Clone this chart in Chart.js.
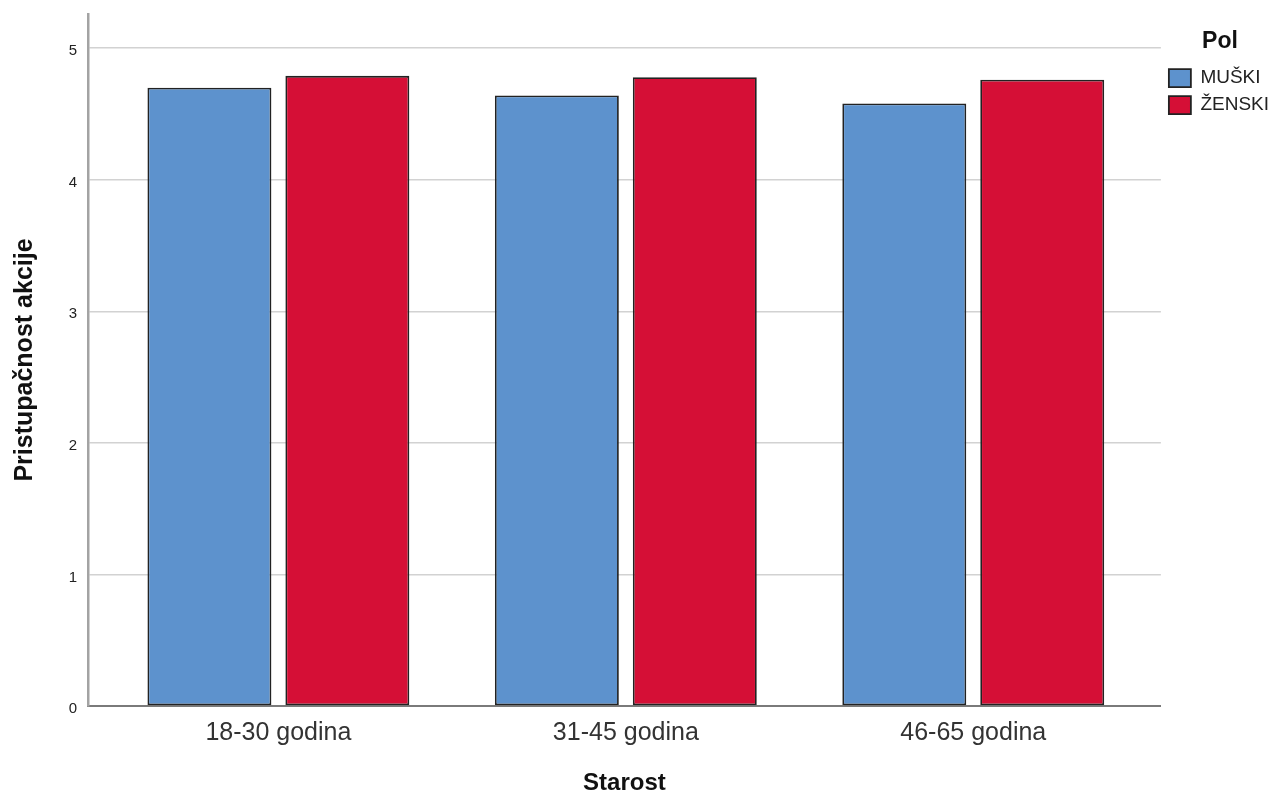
<!DOCTYPE html>
<html>
<head>
<meta charset="utf-8">
<script src="https://cdn.jsdelivr.net/npm/chart.js@4/dist/chart.umd.min.js"></script>
<style>
html,body{margin:0;padding:0;background:#fff;}
#wrap{width:1285px;height:796px;}
</style>
</head>
<body>
<div id="wrap"><canvas id="c" width="1285" height="796"></canvas></div>
<script>
const categories = ['18-30 godina', '31-45 godina', '46-65 godina'];
const seriesNames = ['MUŠKI', 'ŽENSKI'];
const muski = [4.70, 4.64, 4.58];
const zenski = [4.79, 4.78, 4.76];
const yTicks = [0, 1, 2, 3, 4, 5];
const xTitle = 'Starost';
const yTitle = 'Pristupačnost akcije';
const legendTitle = 'Pol';

const FONT = "'Liberation Sans', Arial, sans-serif";

const toPoints = arr => arr.map((v, i) => ({x: i, y: v}));

new Chart(document.getElementById('c'), {
  type: 'bar',
  data: {
    datasets: [
      {label: seriesNames[0], data: toPoints(muski), backgroundColor: '#5d92cd', borderColor: '#222222', borderWidth: 1.8, borderSkipped: false},
      {label: seriesNames[1], data: toPoints(zenski), backgroundColor: '#d50f36', borderColor: '#222222', borderWidth: 1.8, borderSkipped: false}
    ]
  },
  options: {
    responsive: false,
    animation: false,
    devicePixelRatio: 1,
    categoryPercentage: 0.794,
    barPercentage: 0.8986,
    layout: {padding: {top: 14, right: 6, bottom: 0, left: 0}},
    plugins: {
      tooltip: {enabled: false},
      legend: {
        position: 'right',
        align: 'start',
        title: {display: true, text: legendTitle, color: '#111', font: {family: FONT, size: 23, weight: 'bold'}, padding: {top: 16, bottom: 3}},
        labels: {
          boxWidth: 22, boxHeight: 18, padding: 8, color: '#222',
          font: {family: FONT, size: 19}
        }
      }
    },
    scales: {
      x: {
        type: 'linear',
        min: -0.548,
        max: 2.54,
        offset: false,
        afterBuildTicks: s => { s.ticks = categories.map((_, i) => ({value: i})); },
        afterFit: s => { s.height = 90; s.paddingLeft = 0; s.paddingRight = 0; },
        grid: {display: false, drawTicks: false},
        border: {display: true, color: '#7a7a7a', width: 2},
        ticks: {
          autoSkip: false, maxRotation: 0, padding: 12, color: '#333',
          font: {family: FONT, size: 25},
          callback: v => categories[v]
        },
        title: {display: true, text: xTitle, color: '#111', font: {family: FONT, size: 24, weight: 'bold'}, padding: {top: 0, bottom: -2}}
      },
      y: {
        min: 0,
        max: 5.26,
        afterBuildTicks: s => { s.ticks = yTicks.map(v => ({value: v})); },
        afterFit: s => { s.width = 88; s.paddingTop = 0; s.paddingBottom = 0; },
        grid: {color: '#d2d2d2', lineWidth: 1.5, drawTicks: false},
        border: {display: true, color: '#a3a3a3', width: 2.5},
        ticks: {padding: 11, labelOffset: 3, color: '#222', font: {family: FONT, size: 15}},
        title: {display: true, text: yTitle, color: '#111', font: {family: FONT, size: 25, weight: 'bold'}, padding: {top: 10, bottom: 0}}
      }
    }
  }
});
</script>
</body>
</html>
